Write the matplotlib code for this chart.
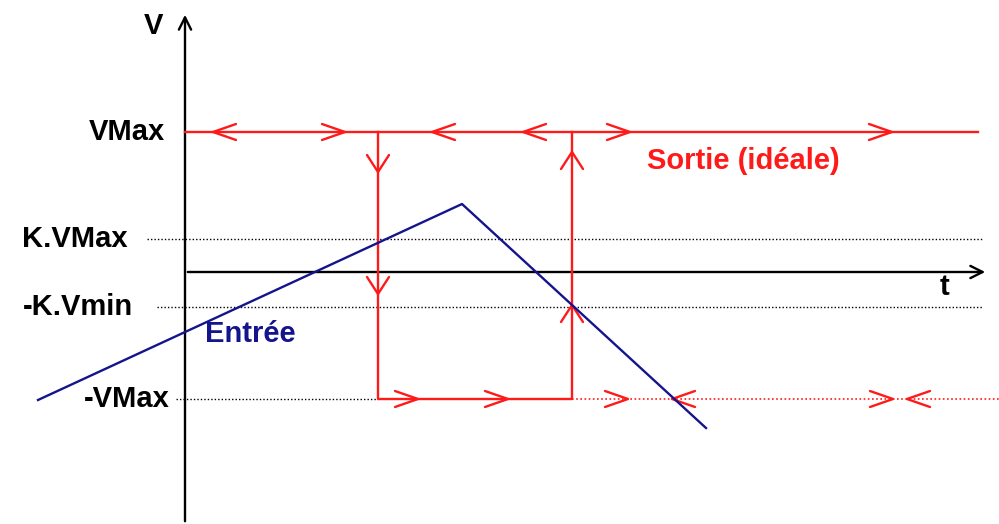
import matplotlib
matplotlib.use('Agg')
import matplotlib.pyplot as plt

# schematic drawn in pixel-like units (x: time, y: screen rows, inverted)
v_axis_x = 185
t_axis_y = 272

# levels and their labels
level_names = ['VMax', 'K.VMax', '-K.Vmin', '-VMax']
level_y = [132, 239, 307, 399]
label_right = [165, 128, 133, 170]
dotted_start = [None, 147, 157, 176]

# input signal (triangle)
input_t = [38, 462, 706]
input_v = [400, 204, 428]

# ideal output switching instants
switch_down_t = 378
switch_up_t = 572

# chevrons along the output: (x, direction)
arrows_high = [(213, 'l'), (345, 'r'), (432, 'l'), (523, 'l'), (630, 'r'), (892, 'r')]
arrows_low = [(418, 'r'), (508, 'r'), (628, 'r'), (672, 'l'), (893, 'r'), (907, 'l')]
arrows_down = [172, 294]
arrows_up = [152, 305]

red = '#ff1a1a'
navy = '#14148c'
plt.rcParams['font.family'] = ['Liberation Sans', 'DejaVu Sans']
fs = 21

fig = plt.figure(figsize=(9.99, 5.24), dpi=100)
ax = fig.add_axes([0, 0, 1, 1])
ax.set_xlim(0, 999)
ax.set_ylim(524, 0)
ax.axis('off')


def chevron(x, y, d):
    if d == 'r':
        xs, ys = [x - 23, x, x - 23], [y - 8, y, y + 8]
    elif d == 'l':
        xs, ys = [x + 23, x, x + 23], [y - 8, y, y + 8]
    elif d == 'd':
        xs, ys = [x - 11, x, x + 11], [y - 17, y, y - 17]
    else:
        xs, ys = [x - 11, x, x + 11], [y + 17, y, y + 17]
    ax.plot(xs, ys, color=red, lw=1.7, solid_capstyle='round', zorder=4)


# axes
ax.annotate('', xy=(v_axis_x, 12), xytext=(v_axis_x, 524),
            arrowprops=dict(arrowstyle='->', color='black', lw=1.7, mutation_scale=22))
ax.annotate('', xy=(988, t_axis_y), xytext=(v_axis_x, t_axis_y),
            arrowprops=dict(arrowstyle='->', color='black', lw=1.7, mutation_scale=22))
ax.text(153, 26, 'V', fontsize=fs, fontweight='bold', ha='center', va='center')
ax.text(945, 287, 't', fontsize=fs, fontweight='bold', ha='center', va='center')

# dotted reference levels
for i in range(1, 4):
    x_end = 983 if i < 3 else switch_down_t
    ax.plot([dotted_start[i], x_end], [level_y[i], level_y[i]], color='black',
            lw=1.0, ls=(0, (1, 1.5)), zorder=1)
ax.plot([switch_up_t, 999], [level_y[3], level_y[3]], color=red, lw=1.2,
        ls=(0, (1, 1.5)), zorder=1)

for name, y, xr in zip(level_names, level_y, label_right):
    ax.text(xr, y, name, fontsize=fs, fontweight='bold', ha='right', va='center')

# ideal output
ax.plot([v_axis_x, 978], [level_y[0], level_y[0]], color=red, lw=1.7, zorder=3)
ax.plot([switch_down_t, switch_down_t, switch_up_t, switch_up_t],
        [level_y[0], level_y[3], level_y[3], level_y[0]], color=red, lw=1.7, zorder=3)
for x, d in arrows_high:
    chevron(x, level_y[0], d)
for x, d in arrows_low:
    chevron(x, level_y[3], d)
for y in arrows_down:
    chevron(switch_down_t, y, 'd')
for y in arrows_up:
    chevron(switch_up_t, y, 'u')

# input
ax.plot(input_t, input_v, color=navy, lw=1.7, zorder=5)

ax.text(647, 161, 'Sortie (idéale)', color=red, fontsize=fs, fontweight='bold',
        ha='left', va='center')
ax.text(205, 334, 'Entrée', color=navy, fontsize=fs, fontweight='bold',
        ha='left', va='center')

fig.savefig('out.png', dpi=100)
